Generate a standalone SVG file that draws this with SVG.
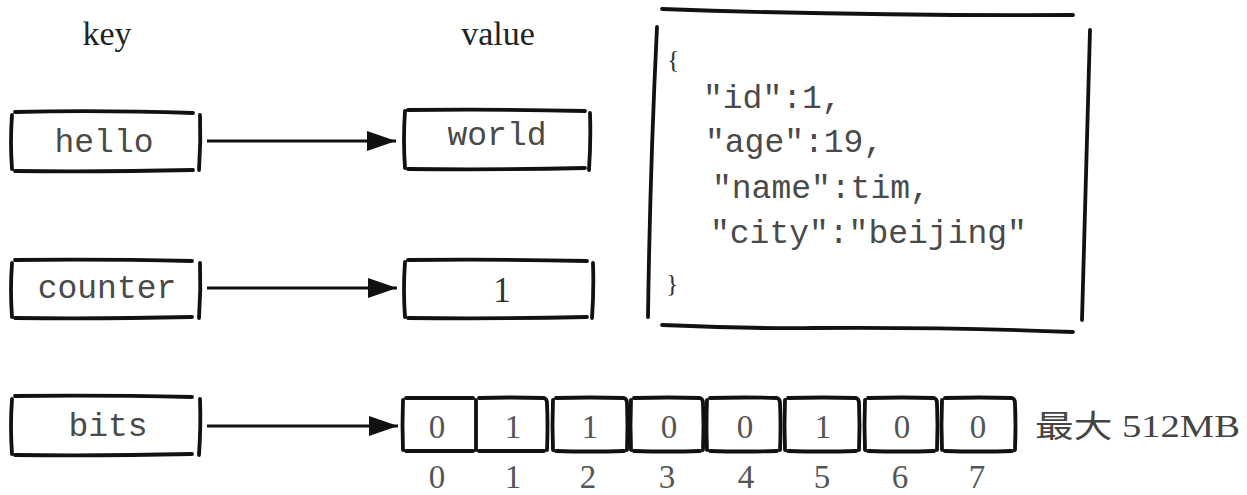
<svg xmlns="http://www.w3.org/2000/svg" width="1247" height="495" viewBox="0 0 1247 495">
<defs>
<style>
.ln{fill:none;stroke:#111;stroke-width:3.8;stroke-linecap:round;stroke-linejoin:round}
.ar{fill:none;stroke:#111;stroke-width:3.2}
.mono{font-family:"Liberation Mono","Courier New",monospace;font-size:33px;fill:#4a4a4a}
.ser{font-family:"Liberation Serif","Times New Roman",serif;fill:#333}
.hd{font-size:34px;fill:#222}
.dg{font-size:33px;text-anchor:middle;fill:#555}
.mid{text-anchor:middle}
</style>
<marker id="ah" markerUnits="userSpaceOnUse" markerWidth="30" markerHeight="22" refX="29" refY="10" orient="auto">
<path d="M0,0 L29,10 L0,20 Z" fill="#111"/>
</marker>
</defs>
<rect width="1247" height="495" fill="#fff"/>

<g id="headers">
<text class="ser hd mid" x="107" y="45">key</text>
<text class="ser hd mid" x="498" y="45">value</text>
</g>

<g id="connectors">
<line class="ar" x1="207" y1="141" x2="396" y2="141" marker-end="url(#ah)"/>
<line class="ar" x1="207" y1="288" x2="397" y2="288" marker-end="url(#ah)"/>
<line class="ar" x1="207" y1="426" x2="398" y2="426" marker-end="url(#ah)"/>
</g>

<g id="key-hello">
<path class="ln" d="M15,112 Q100,110 193,113 M15,171 Q100,172 193,170 M12,115 Q10,142 12,169 M200,115 Q201,142 199,170"/>
<text class="mono mid" x="104" y="152">hello</text>
</g>

<g id="val-world">
<path class="ln" d="M408,110 Q500,109 585,111 M408,169 Q500,170 585,168 M405,111 Q403,140 405,168 M590,113 Q591,140 589,170"/>
<text class="mono mid" x="497" y="145">world</text>
</g>

<g id="key-counter">
<path class="ln" d="M15,260 Q100,259 192,261 M15,318 Q100,319 192,317 M12,263 Q10,290 12,317 M200,263 Q201,290 199,318"/>
<text class="mono mid" x="107" y="298">counter</text>
</g>

<g id="val-1">
<path class="ln" d="M408,260 Q500,259 587,261 M408,318 Q500,319 587,317 M405,262 Q403,290 405,317 M593,263 Q594,290 592,318"/>
<text class="ser mid" x="502" y="302" font-size="35" fill="#444">1</text>
</g>

<g id="val-json">
<path class="ln" d="M662,9 Q860,16 1073,15 M662,325 Q760,329 813,328 Q950,327 1073,332 M657,27 Q650,170 648,317 M1090,30 Q1086,180 1082,320"/>
<text class="ser" x="667" y="68" font-size="26" fill="#555">{</text>
<text class="mono" x="703" y="108">"id":1,</text>
<text class="mono" x="705" y="152">"age":19,</text>
<text class="mono" x="712" y="198">"name":tim,</text>
<text class="mono" x="710" y="243">"city":"beijing"</text>
<text class="ser" x="666" y="292" font-size="26" fill="#555">}</text>
</g>

<g id="key-bits">
<path class="ln" d="M15,396 Q100,395 192,397 M15,455 Q100,456 192,454 M12,399 Q10,426 12,454 M200,399 Q201,426 199,455"/>
<text class="mono mid" x="108" y="436">bits</text>
</g>

<g id="val-bits">
<path class="ln" d="M406,398 L473,398 M406,451 L473,451 M403,400 Q402,425 403,450 M476,400 L476,450"/>
<path class="ln" d="M479,398 Q510,397 544,398 Q547,399 547,403 M479,451 L544,451 M547,403 Q548,426 547,450"/>
<path class="ln" d="M556,398 Q590,397 624,398 Q627,399 627,403 M556,451 Q590,452 624,451 M553,400 Q552,425 553,450 M627,403 Q628,426 627,450"/>
<path class="ln" d="M634,398 Q670,397 700,398 Q703,399 703,403 M634,451 Q670,452 700,451 M631,400 Q630,425 631,450 M703,403 Q704,426 703,450"/>
<path class="ln" d="M710,398 Q745,397 777,398 Q780,399 780,403 M710,451 Q745,452 777,451 M707,400 Q706,425 707,450 M780,403 Q781,426 780,450"/>
<path class="ln" d="M788,398 Q823,397 856,398 Q859,399 859,403 M788,451 Q823,452 856,451 M785,400 Q784,425 785,450 M859,403 Q860,426 859,450"/>
<path class="ln" d="M868,398 Q903,397 934,398 Q937,399 937,403 M868,451 Q903,452 934,451 M865,400 Q864,425 865,450 M937,403 Q938,426 937,450"/>
<path class="ln" d="M945,398 Q980,397 1012,398 Q1015,399 1015,403 M945,451 Q980,452 1012,451 M942,400 Q941,425 942,450 M1015,403 Q1016,426 1015,450"/>
<text class="ser dg" x="437" y="438">0</text>
<text class="ser dg" x="513" y="438">1</text>
<text class="ser dg" x="590" y="438">1</text>
<text class="ser dg" x="669" y="438">0</text>
<text class="ser dg" x="745" y="438">0</text>
<text class="ser dg" x="823" y="438">1</text>
<text class="ser dg" x="902" y="438">0</text>
<text class="ser dg" x="978" y="438">0</text>
</g>

<g id="indices">
<text class="ser dg" x="437" y="488">0</text>
<text class="ser dg" x="513" y="488">1</text>
<text class="ser dg" x="588" y="488">2</text>
<text class="ser dg" x="667" y="488">3</text>
<text class="ser dg" x="746" y="488">4</text>
<text class="ser dg" x="822" y="488">5</text>
<text class="ser dg" x="900" y="488">6</text>
<text class="ser dg" x="977" y="488">7</text>
</g>

<g id="max-label">
<text x="1035" y="437" font-family="'Liberation Serif','Noto Sans CJK SC',serif" font-size="31" fill="#444" textLength="205" lengthAdjust="spacingAndGlyphs">最大 512MB</text>
</g>
</svg>
